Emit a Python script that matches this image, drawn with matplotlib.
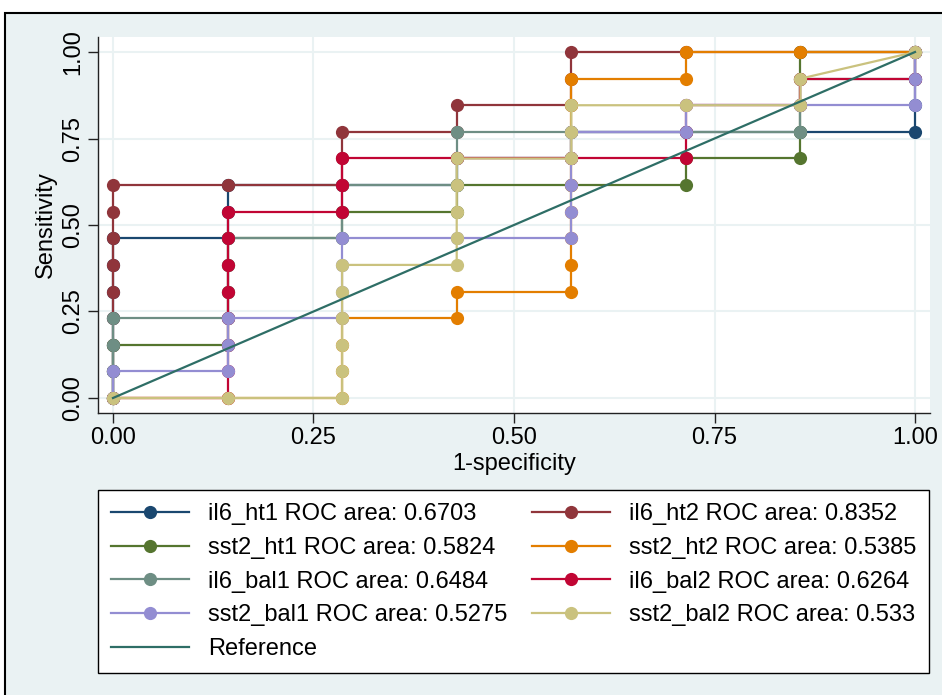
import numpy as np
import matplotlib
matplotlib.use("Agg")
import matplotlib.pyplot as plt
from matplotlib.patches import Rectangle

plt.rcParams['font.family'] = ['Liberation Sans', 'DejaVu Sans']

# group sizes: 7 negatives, 13 positives
n_neg = 7
n_pos = 13

# ROC points as counts (false positives, true positives)
il6_ht1_fp = [0, 0, 0, 0, 0, 0, 0, 1, 1, 1, 2, 3, 3, 4, 4, 5, 6, 7, 7, 7, 7]
il6_ht1_tp = [0, 1, 2, 3, 4, 5, 6, 6, 7, 8, 8, 8, 9, 9, 10, 10, 10, 10, 11, 12, 13]
il6_ht2_fp = [0, 0, 0, 0, 0, 0, 0, 0, 0, 1, 2, 2, 2, 3, 3, 4, 4, 4, 5, 6, 7]
il6_ht2_tp = [0, 1, 2, 3, 4, 5, 6, 7, 8, 8, 8, 9, 10, 10, 11, 11, 12, 13, 13, 13, 13]
sst2_ht1_fp = [0, 0, 0, 1, 1, 1, 1, 1, 2, 2, 3, 3, 4, 5, 5, 6, 6, 6, 6, 6, 7]
sst2_ht1_tp = [0, 1, 2, 2, 3, 4, 5, 6, 6, 7, 7, 8, 8, 8, 9, 9, 10, 11, 12, 13, 13]
sst2_ht2_fp = [0, 1, 2, 2, 2, 2, 3, 3, 4, 4, 4, 4, 4, 4, 4, 4, 4, 5, 5, 6, 7]
sst2_ht2_tp = [0, 0, 0, 1, 2, 3, 3, 4, 4, 5, 6, 7, 8, 9, 10, 11, 12, 12, 13, 13, 13]
il6_bal1_fp = [0, 0, 0, 0, 1, 1, 1, 1, 2, 2, 2, 3, 3, 3, 4, 5, 6, 6, 6, 7, 7]
il6_bal1_tp = [0, 1, 2, 3, 3, 4, 5, 6, 6, 7, 8, 8, 9, 10, 10, 10, 10, 11, 12, 12, 13]
il6_bal2_fp = [0, 1, 1, 1, 1, 1, 1, 1, 1, 2, 2, 2, 3, 4, 5, 5, 5, 6, 6, 7, 7]
il6_bal2_tp = [0, 0, 1, 2, 3, 4, 5, 6, 7, 7, 8, 9, 9, 9, 9, 10, 11, 11, 12, 12, 13]
sst2_bal1_fp = [0, 0, 1, 1, 1, 2, 2, 2, 2, 3, 4, 4, 4, 4, 4, 5, 5, 6, 7, 7, 7]
sst2_bal1_tp = [0, 1, 1, 2, 3, 3, 4, 5, 6, 6, 6, 7, 8, 9, 10, 10, 11, 11, 11, 12, 13]
sst2_bal2_fp = [0, 1, 2, 2, 2, 2, 2, 2, 3, 3, 3, 3, 3, 4, 4, 4, 5, 6, 6, 7]
sst2_bal2_tp = [0, 0, 0, 1, 2, 3, 4, 5, 5, 6, 7, 8, 9, 9, 10, 11, 11, 11, 12, 13]

names = ["il6_ht1", "il6_ht2", "sst2_ht1", "sst2_ht2",
         "il6_bal1", "il6_bal2", "sst2_bal1", "sst2_bal2"]
areas = ["0.6703", "0.8352", "0.5824", "0.5385",
         "0.6484", "0.6264", "0.5275", "0.533"]
fps = [il6_ht1_fp, il6_ht2_fp, sst2_ht1_fp, sst2_ht2_fp,
       il6_bal1_fp, il6_bal2_fp, sst2_bal1_fp, sst2_bal2_fp]
tps = [il6_ht1_tp, il6_ht2_tp, sst2_ht1_tp, sst2_ht2_tp,
       il6_bal1_tp, il6_bal2_tp, sst2_bal1_tp, sst2_bal2_tp]
colors = ["#1a476f", "#90353b", "#55752f", "#e37e00",
          "#6e8e84", "#c10534", "#938dd2", "#cac27e"]
ref_color = "#2e6e66"
bg = "#eaf2f3"
fs = 17

fig = plt.figure(figsize=(9.42, 6.95), dpi=100)
fig.patch.set_facecolor("white")
frame = Rectangle((5 / 942, -0.02), 1.0, (695 - 13) / 695 + 0.02,
                  transform=fig.transFigure, facecolor=bg,
                  edgecolor="black", lw=1.5, zorder=-10)
fig.patches.append(frame)

ax = fig.add_axes([98 / 942, (695 - 413) / 695, (930 - 98) / 942, (413 - 37) / 695])
ax.set_facecolor("white")

handles = []
for name, area, fp, tp, c in zip(names, areas, fps, tps, colors):
    x = np.array(fp) / n_neg
    y = np.array(tp) / n_pos
    h, = ax.plot(x, y, color=c, lw=1.6, marker="o", markersize=9.5,
                 markeredgewidth=0, label=f"{name} ROC area: {area}")
    handles.append(h)
ref, = ax.plot([0, 1], [0, 1], color=ref_color, lw=1.6, label="Reference")

ax.set_xlim(-0.0187, 1.0187)
ax.set_ylim(-0.0434, 1.0434)
ticks = [0, 0.25, 0.5, 0.75, 1.0]
ax.set_xticks(ticks)
ax.set_yticks(ticks)
ax.set_xticklabels([f"{t:.2f}" for t in ticks], fontsize=fs)
ax.set_yticklabels([f"{t:.2f}" for t in ticks], fontsize=fs, rotation=90, va="center")
ax.grid(True, color=bg, lw=1.5)
ax.set_axisbelow(True)
for s in ["top", "right"]:
    ax.spines[s].set_visible(False)
for s in ["left", "bottom"]:
    ax.spines[s].set_color("#222222")
    ax.spines[s].set_linewidth(1.0)
ax.tick_params(direction="out", length=7, width=1, color="#222222", pad=3)
ax.set_xlabel("1-specificity", fontsize=fs, labelpad=3)
ax.set_ylabel("Sensitivity", fontsize=fs, labelpad=4)

# legend: rows are filled left to right in the original
order = [0, 2, 4, 6, 8, 1, 3, 5, 7]
all_h = handles + [ref]
leg = fig.legend([all_h[i] for i in order], [all_h[i].get_label() for i in order],
                 loc="upper left", bbox_to_anchor=(98 / 942, (695 - 490) / 695),
                 ncol=2, fontsize=fs, frameon=True, fancybox=False,
                 edgecolor="black", facecolor="white", framealpha=1,
                 handlelength=3.3, handletextpad=0.8, columnspacing=1.05,
                 labelspacing=0.5, borderpad=0.55, borderaxespad=0, numpoints=1)
leg.get_frame().set_linewidth(1.0)

fig.savefig("out.png", dpi=100)
